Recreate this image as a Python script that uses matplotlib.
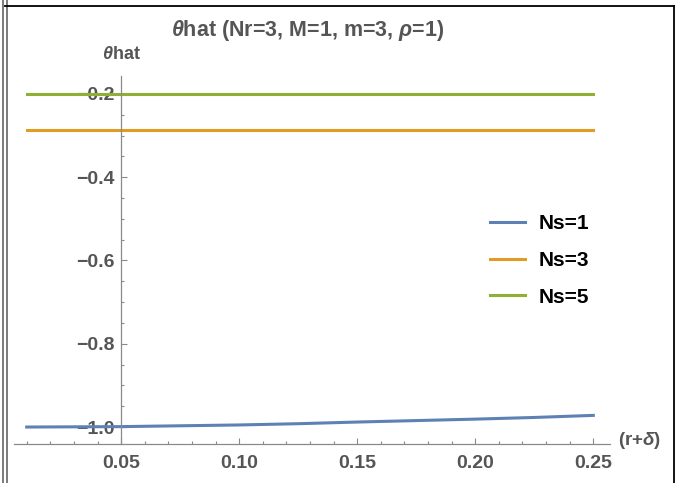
import matplotlib
matplotlib.use("Agg")
import matplotlib.pyplot as plt
from matplotlib.lines import Line2D
from matplotlib.ticker import MultipleLocator, FuncFormatter

plt.rcParams['font.family'] = ['Liberation Sans', 'DejaVu Sans']
plt.rcParams['mathtext.fontset'] = 'custom'
plt.rcParams['mathtext.rm'] = 'Liberation Sans:bold'
plt.rcParams['mathtext.it'] = 'Liberation Sans:italic:bold'

# data
x_ns1 = [0.01, 0.03, 0.05, 0.075, 0.10, 0.125, 0.15, 0.175, 0.20, 0.225, 0.25]
y_ns1 = [-1.000, -0.9995, -0.999, -0.997, -0.995, -0.992, -0.988, -0.9845, -0.981, -0.977, -0.972]
x_flat = [0.01, 0.25]
y_ns3 = [-0.2865, -0.2865]
y_ns5 = [-0.2, -0.2]
labels = ['Ns=1', 'Ns=3', 'Ns=5']
colors = ['#5E81B5', '#E19C24', '#8FB032']

gray = '#555555'
axis_gray = '#8a8a8a'


def fmt(digits):
    def f(v, pos):
        s = ('%.' + str(digits) + 'f') % v
        return s.replace('-', '\u2212')
    return FuncFormatter(f)


fig = plt.figure(figsize=(6.86, 4.83), dpi=100)
ax = fig.add_axes([0.021, 0.0807, 0.868, 0.762])

ax.plot(x_ns1, y_ns1, color=colors[0], lw=2.2, label=labels[0])
ax.plot(x_flat, y_ns3, color=colors[1], lw=2.2, label=labels[1])
ax.plot(x_flat, y_ns5, color=colors[2], lw=2.2, label=labels[2])

ax.set_xlim(0.0048, 0.257)
ax.set_ylim(-1.0408, -0.1568)

ax.spines['top'].set_visible(False)
ax.spines['right'].set_visible(False)
ax.spines['left'].set_position(('data', 0.05))
for s in ('left', 'bottom'):
    ax.spines[s].set_color(axis_gray)
    ax.spines[s].set_linewidth(0.9)

ax.set_xticks([0.05, 0.10, 0.15, 0.20, 0.25])
ax.set_yticks([-1.0, -0.8, -0.6, -0.4, -0.2])
ax.xaxis.set_minor_locator(MultipleLocator(0.01))
ax.yaxis.set_minor_locator(MultipleLocator(0.05))
ax.xaxis.set_major_formatter(fmt(2))
ax.yaxis.set_major_formatter(fmt(1))

ax.tick_params(which='both', direction='in', color=axis_gray, width=0.8,
               labelcolor=gray, labelsize=14)
ax.tick_params(which='major', length=4)
ax.tick_params(which='minor', length=2.2)
ax.tick_params(axis='x', pad=8)
ax.tick_params(axis='y', pad=5)
for t in ax.get_xticklabels() + ax.get_yticklabels():
    t.set_fontweight('bold')

fig.text(0.449, 0.937, r'$\theta$hat (Nr=3, M=1, m=3, $\rho$=1)', ha='center',
         va='center', fontsize=15.5, color=gray, fontweight='bold')
ax.text(0.05, 1.035, r'$\theta$hat', transform=ax.get_xaxis_transform(),
        ha='center', va='bottom', fontsize=13, color=gray, fontweight='bold')
ax.text(1.013, 0.01, r'(r+$\delta$)', transform=ax.transAxes, ha='left',
        va='center', fontsize=13.5, color=gray, fontweight='bold')

leg = fig.legend(loc='center left', bbox_to_anchor=(0.714, 0.461), frameon=False,
                 fontsize=15, handlelength=1.7, handletextpad=0.65,
                 labelspacing=0.85, borderpad=0, borderaxespad=0)
for t in leg.get_texts():
    t.set_fontweight('bold')

# outer frame like the notebook cell
fig.add_artist(Line2D([3.5 / 686, 3.5 / 686], [0, 1], color='#666666', lw=1.2))
fig.add_artist(Line2D([6.5 / 686, 6.5 / 686], [0, 1], color='#666666', lw=1.2))
fig.add_artist(Line2D([5 / 686, 674 / 686], [1 - 6 / 483, 1 - 6 / 483], color='black', lw=1.3))
fig.add_artist(Line2D([674 / 686, 674 / 686], [0, 1 - 6 / 483], color='black', lw=1.3))

fig.savefig('out.png', dpi=100)
